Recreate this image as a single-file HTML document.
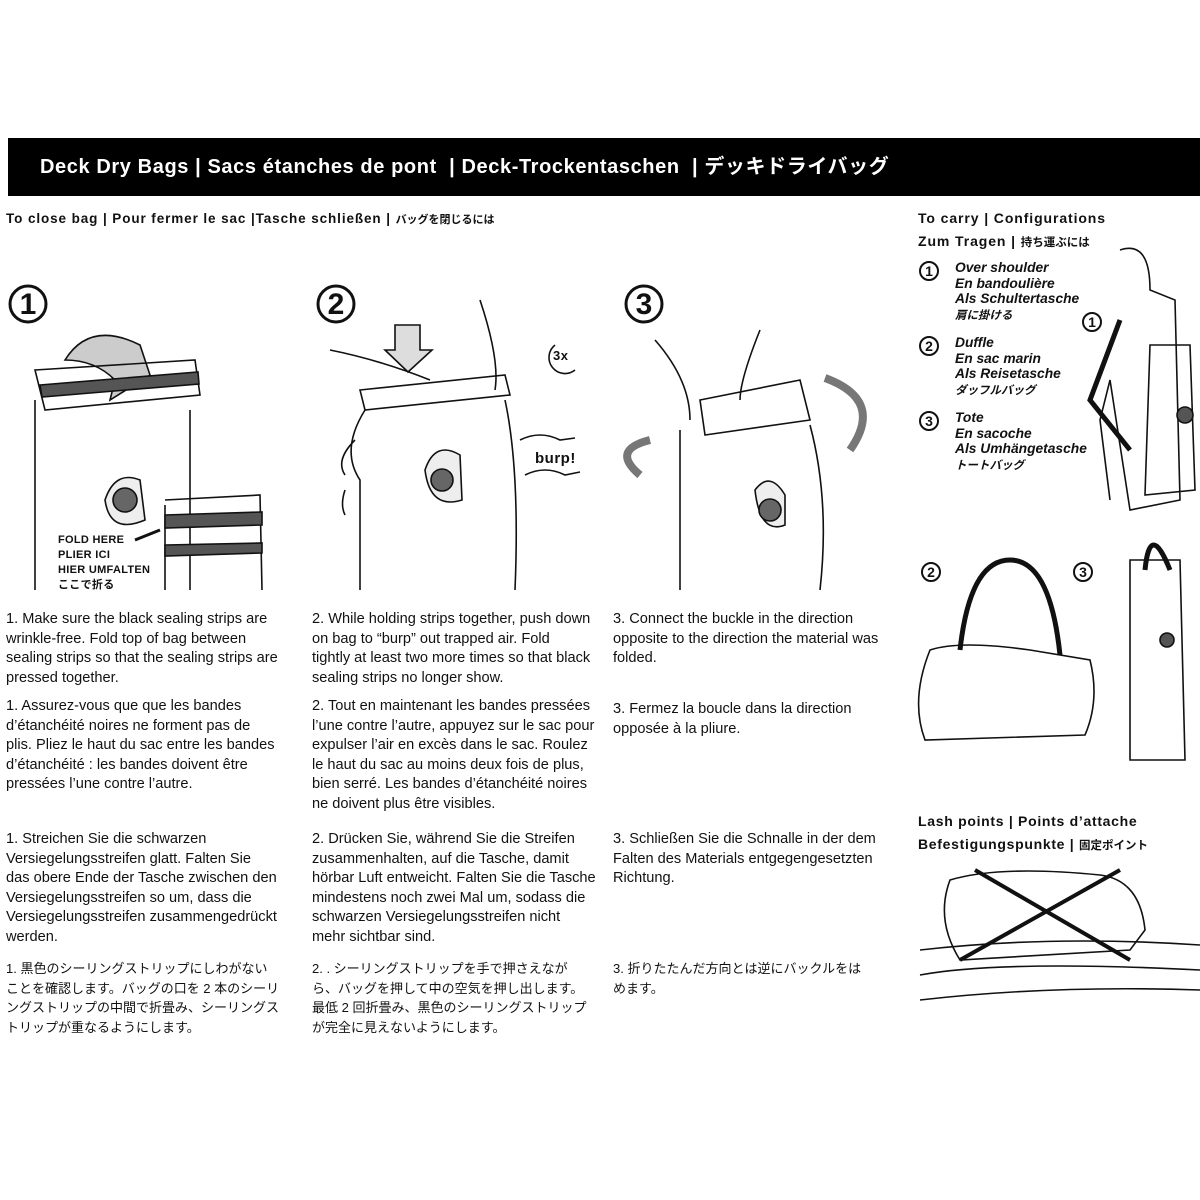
<!DOCTYPE html>
<html><head><meta charset="utf-8"><style>
body{margin:0;width:1200px;height:1200px;background:#fff;position:relative;overflow:hidden;font-family:"Liberation Sans","Noto Sans CJK JP",sans-serif;color:#111}
.hdr{position:absolute;left:8px;top:138px;width:1192px;height:58px;background:#000;color:#fff;font-weight:bold;font-size:20px;letter-spacing:0.6px;line-height:58px;padding-left:32px;box-sizing:border-box;white-space:nowrap}
.t{position:absolute;font-size:14.6px;line-height:19.6px;letter-spacing:0;white-space:nowrap}
.b{position:absolute;font-weight:bold;font-size:14px;letter-spacing:0.5px;white-space:nowrap}
.bi{position:absolute;font-weight:bold;font-style:italic;font-size:13.8px;line-height:15.5px;white-space:nowrap}
svg{position:absolute;left:0;top:0}
</style></head><body>
<div class="hdr">Deck Dry Bags | Sacs étanches de pont &nbsp;| Deck-Trockentaschen &nbsp;| デッキドライバッグ</div>
<div class="b" style="left:6px;top:211px;font-size:13.5px;letter-spacing:0.9px">To close bag | Pour fermer le sac |Tasche schließen | <span style="font-size:11px;letter-spacing:0">バッグを閉じるには</span></div>
<div class="b" style="left:918px;top:210px;letter-spacing:0.9px">To carry | Configurations</div>
<div class="b" style="left:918px;top:233px;letter-spacing:0.9px">Zum Tragen | <span style="font-size:11.5px;letter-spacing:0">持ち運ぶには</span></div>
<div class="bi" style="left:955px;top:260px">Over shoulder<br>En bandoulière<br>Als Schultertasche<br><span style="font-size:11.5px">肩に掛ける</span></div>
<div class="bi" style="left:955px;top:335px">Duffle<br>En sac marin<br>Als Reisetasche<br><span style="font-size:11.5px">ダッフルバッグ</span></div>
<div class="bi" style="left:955px;top:410px">Tote<br>En sacoche<br>Als Umhängetasche<br><span style="font-size:11.5px">トートバッグ</span></div>
<div class="b" style="left:918px;top:813px;letter-spacing:0.7px">Lash points | Points d’attache</div>
<div class="b" style="left:918px;top:836px;letter-spacing:0.7px">Befestigungspunkte | <span style="font-size:11.5px;letter-spacing:0">固定ポイント</span></div>
<div class="b" style="left:58px;top:533px;font-size:11px;line-height:15px;letter-spacing:0.3px">FOLD HERE<br>PLIER ICI<br>HIER UMFALTEN<br>ここで折る</div>
<div class="b" style="left:535px;top:450px;font-size:15px">burp!</div>
<div class="b" style="left:553px;top:348px;font-size:13px">3x</div>

<div class="t" style="left:6px;top:610px">1. Make sure the black sealing strips are<br>wrinkle-free. Fold top of bag between<br>sealing strips so that the sealing strips are<br>pressed together.</div>
<div class="t" style="left:6px;top:697px">1. Assurez-vous que que les bandes<br>d’étanchéité noires ne forment pas de<br>plis. Pliez le haut du sac entre les bandes<br>d’étanchéité : les bandes doivent être<br>pressées l’une contre l’autre.</div>
<div class="t" style="left:6px;top:830px">1. Streichen Sie die schwarzen<br>Versiegelungsstreifen glatt. Falten Sie<br>das obere Ende der Tasche zwischen den<br>Versiegelungsstreifen so um, dass die<br>Versiegelungsstreifen zusammengedrückt<br>werden.</div>
<div class="t" style="left:6px;top:959px;font-size:13px">1. 黒色のシーリングストリップにしわがない<br>ことを確認します。バッグの口を 2 本のシーリ<br>ングストリップの中間で折畳み、シーリングス<br>トリップが重なるようにします。</div>

<div class="t" style="left:312px;top:610px">2. While holding strips together, push down<br>on bag to “burp” out trapped air. Fold<br>tightly at least two more times so that black<br>sealing strips no longer show.</div>
<div class="t" style="left:312px;top:697px">2. Tout en maintenant les bandes pressées<br>l’une contre l’autre, appuyez sur le sac pour<br>expulser l’air en excès dans le sac. Roulez<br>le haut du sac au moins deux fois de plus,<br>bien serré. Les bandes d’étanchéité noires<br>ne doivent plus être visibles.</div>
<div class="t" style="left:312px;top:830px">2. Drücken Sie, während Sie die Streifen<br>zusammenhalten, auf die Tasche, damit<br>hörbar Luft entweicht. Falten Sie die Tasche<br>mindestens noch zwei Mal um, sodass die<br>schwarzen Versiegelungsstreifen nicht<br>mehr sichtbar sind.</div>
<div class="t" style="left:312px;top:959px;font-size:13px">2. . シーリングストリップを手で押さえなが<br>ら、バッグを押して中の空気を押し出します。<br>最低 2 回折畳み、黒色のシーリングストリップ<br>が完全に見えないようにします。</div>

<div class="t" style="left:613px;top:610px">3. Connect the buckle in the direction<br>opposite to the direction the material was<br>folded.</div>
<div class="t" style="left:613px;top:700px">3. Fermez la boucle dans la direction<br>opposée à la pliure.</div>
<div class="t" style="left:613px;top:830px">3. Schließen Sie die Schnalle in der dem<br>Falten des Materials entgegengesetzten<br>Richtung.</div>
<div class="t" style="left:613px;top:959px;font-size:13px">3. 折りたたんだ方向とは逆にバックルをは<br>めます。</div>

<svg width="1200" height="1200" viewBox="0 0 1200 1200" fill="none" stroke="#111" stroke-width="1.6">
<g font-family="Liberation Sans" font-weight="bold" font-size="30" fill="#111" stroke="none" text-anchor="middle">
<text x="28" y="314">1</text><text x="336" y="314">2</text><text x="644" y="314">3</text></g>
<circle cx="28" cy="304" r="18" stroke-width="3"/><circle cx="336" cy="304" r="18" stroke-width="3"/><circle cx="644" cy="304" r="18" stroke-width="3"/>
<g font-family="Liberation Sans" font-weight="bold" font-size="14" fill="#111" stroke="none" text-anchor="middle">
<text x="929" y="276">1</text><text x="929" y="351">2</text><text x="929" y="426">3</text><text x="1092" y="327">1</text><text x="931" y="577">2</text><text x="1083" y="577">3</text></g>
<circle cx="929" cy="271" r="9" stroke-width="2"/><circle cx="929" cy="346" r="9" stroke-width="2"/><circle cx="929" cy="421" r="9" stroke-width="2"/><circle cx="1092" cy="322" r="9" stroke-width="2"/><circle cx="931" cy="572" r="9" stroke-width="2"/><circle cx="1083" cy="572" r="9" stroke-width="2"/>
<path d="M65 360 Q90 320 140 345 L150 375 L110 400 L115 380 Q95 360 65 360Z" fill="#ccc"/>
<path d="M35 370 L195 360 L200 395 L45 410 Z"/><path d="M40 385 L198 372 L199 384 L42 397Z" fill="#555"/>
<path d="M35 400 L35 590 M190 410 L190 590"/>
<path d="M105 500 Q115 470 140 480 L145 520 Q110 535 105 500Z" fill="#eee"/><circle cx="125" cy="500" r="12" fill="#666"/>
<path d="M165 500 L260 495 L262 590 M165 505 L165 590"/><path d="M165 515 L262 512 L262 525 L165 528Z" fill="#555"/><path d="M165 545 L262 543 L262 553 L165 556Z" fill="#555"/>
<path d="M135 540 L160 530" stroke-width="3"/>
<path d="M395 325 L420 325 L420 350 L432 350 L408 372 L385 350 L395 350Z" fill="#ddd"/>
<path d="M330 350 Q380 360 430 380 M480 300 Q500 360 495 390 M360 390 L505 375 L510 395 L365 410Z"/>
<path d="M365 410 Q340 450 360 480 L360 590 M505 400 Q520 470 515 590"/>
<path d="M425 470 Q435 440 460 455 L462 500 Q430 510 425 470Z" fill="#eee"/><circle cx="442" cy="480" r="11" fill="#666"/>
<path d="M555 345 A16 16 0 1 0 575 370"/>
<path d="M520 440 Q540 430 560 440 L575 438 M525 475 Q545 465 565 475 L580 472 M355 440 Q335 460 345 475 M345 490 Q340 505 345 515"/>
<path d="M655 340 Q690 380 690 420 M760 330 Q740 380 740 400 M700 400 L800 380 L810 420 L705 435Z" fill="#fff"/>
<path d="M680 430 L680 590 M810 425 Q830 500 820 590"/>
<path d="M650 440 Q610 450 640 475 M825 378 Q885 400 850 450" stroke-width="8" stroke="#777"/>
<path d="M755 490 Q770 470 785 495 L785 525 Q760 535 755 490Z" fill="#eee"/><circle cx="770" cy="510" r="11" fill="#666"/>
<path d="M1120 250 Q1150 240 1150 290 L1175 300 L1180 500 L1130 510 L1110 380 L1100 420 L1110 500 M1150 345 L1190 345 L1195 490 L1145 495Z"/>
<path d="M1120 320 L1090 400 L1130 450" stroke-width="5"/><circle cx="1185" cy="415" r="8" fill="#555"/>
<path d="M930 650 Q960 640 1030 650 L1090 660 Q1100 700 1085 735 L925 740 Q910 700 930 650Z"/>
<path d="M960 650 Q970 560 1010 560 Q1050 560 1060 655" stroke-width="5"/>
<path d="M1130 560 L1180 560 L1185 760 L1130 760Z"/><path d="M1145 570 Q1150 520 1170 570" stroke-width="5"/><circle cx="1167" cy="640" r="7" fill="#555"/>
<path d="M950 880 Q1000 865 1100 875 Q1140 880 1145 930 L1130 950 L960 960 Q935 920 950 880Z"/>
<path d="M975 870 L1130 960 M1120 870 L960 960" stroke-width="4"/>
<path d="M920 950 Q1050 935 1200 945 M920 1000 Q1050 985 1200 990 M920 975 Q1000 960 1200 970"/>
</svg>
</body></html>
